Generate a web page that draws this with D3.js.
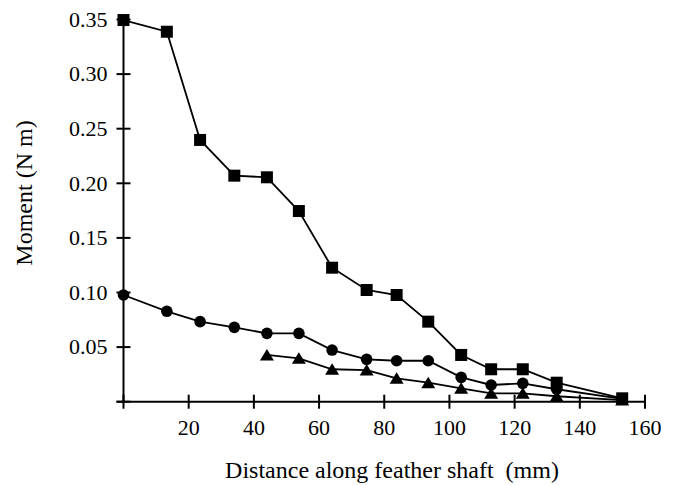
<!DOCTYPE html>
<html><head><meta charset="utf-8">
<script src="https://cdn.jsdelivr.net/npm/d3@7"></script>
<style>
html,body{margin:0;padding:0;background:#fff;}
svg{display:block;}
text{font-family:"Liberation Serif","Times New Roman",serif;fill:#000;}
</style></head><body>
<svg id="c" width="680" height="485"></svg>
<script>
const distances = [0, 13.3, 23.5, 34, 44, 53.8, 64, 74.6, 83.8, 93.5, 103.6, 112.8, 122.5, 132.9, 153];
const squareMoments = [0.3495, 0.3388, 0.2397, 0.207, 0.2055, 0.1746, 0.1227, 0.1023, 0.0977, 0.0733, 0.0428, 0.0297, 0.0297, 0.0174, 0.0031];
const circleMoments = [0.0977, 0.0828, 0.0733, 0.0681, 0.0626, 0.0626, 0.0473, 0.0388, 0.0375, 0.0375, 0.0223, 0.0153, 0.0168, 0.0114, 0.0025];
const triangleDistances = [44, 53.8, 64, 74.6, 83.8, 93.5, 103.6, 112.8, 122.5, 132.9, 153];
const triangleMoments = [0.0428, 0.0397, 0.0297, 0.029, 0.0214, 0.0174, 0.0123, 0.0077, 0.0077, 0.005, 0.0015];
const xTicks = [0, 20, 40, 60, 80, 100, 120, 140, 160];
const yTicks = [0, 0.05, 0.10, 0.15, 0.20, 0.25, 0.30, 0.35];
const xTitle = "Distance along feather shaft  (mm)";
const yTitle = "Moment (N m)";

const svg = d3.select("#c");
const x = d3.scaleLinear().domain([0, 160]).range([123.5, 645]);
const y = d3.scaleLinear().domain([0, 0.35]).range([401.7, 19.5]);

// axes
const ax = svg.append("g");
ax.append("line").attr("x1", x(0) - 7).attr("x2", x(160)).attr("y1", y(0)).attr("y2", y(0))
  .attr("stroke", "#000").attr("stroke-width", 2);
ax.append("line").attr("x1", x(0)).attr("x2", x(0)).attr("y1", y(0.35)).attr("y2", y(0))
  .attr("stroke", "#000").attr("stroke-width", 2);
ax.selectAll(".xt").data(xTicks).enter().append("line")
  .attr("x1", d => x(d)).attr("x2", d => x(d)).attr("y1", y(0) - 7).attr("y2", y(0) + 7)
  .attr("stroke", "#000").attr("stroke-width", 2);
ax.selectAll(".yt").data(yTicks).enter().append("line")
  .attr("x1", x(0) - 7).attr("x2", x(0) + 7).attr("y1", d => y(d)).attr("y2", d => y(d))
  .attr("stroke", "#000").attr("stroke-width", 2);
ax.selectAll(".xl").data(xTicks.filter(d => d > 0)).enter().append("text")
  .attr("x", d => x(d)).attr("y", y(0) + 33).attr("text-anchor", "middle")
  .attr("font-size", 22).text(d => d);
ax.selectAll(".yl").data(yTicks.filter(d => d > 0)).enter().append("text")
  .attr("x", x(0) - 16).attr("y", d => y(d)).attr("dy", "0.33em").attr("text-anchor", "end")
  .attr("font-size", 22).text(d => d.toFixed(2));

svg.append("text").attr("x", 392).attr("y", 478).attr("text-anchor", "middle")
  .attr("font-size", 24).style("white-space", "pre").text(xTitle);
svg.append("text").attr("transform", "translate(32,193) rotate(-90)").attr("text-anchor", "middle")
  .attr("font-size", 24).text(yTitle);

const line = d3.line().x(d => x(d[0])).y(d => y(d[1]));
const sq = d3.zip(distances, squareMoments);
const ci = d3.zip(distances, circleMoments);
const tr = d3.zip(triangleDistances, triangleMoments);
[tr, ci, sq].forEach(s => svg.append("path").attr("d", line(s)).attr("fill", "none")
  .attr("stroke", "#000").attr("stroke-width", 1.8));

svg.append("g").selectAll("path").data(tr).enter().append("path")
  .attr("d", d => { const cx = x(d[0]), cy = y(d[1]); return `M${cx},${cy-6}L${cx+7},${cy+5.5}L${cx-7},${cy+5.5}Z`; })
  .attr("fill", "#000");
svg.append("g").selectAll("circle").data(ci).enter().append("circle")
  .attr("cx", d => x(d[0])).attr("cy", d => y(d[1])).attr("r", 5.8).attr("fill", "#000");
svg.append("g").selectAll("rect").data(sq).enter().append("rect")
  .attr("x", d => x(d[0]) - 6).attr("y", d => y(d[1]) - 6).attr("width", 12).attr("height", 12).attr("fill", "#000");
</script></body></html>
